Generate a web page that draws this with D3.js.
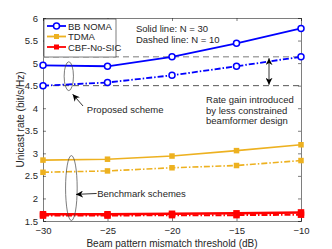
<!DOCTYPE html>
<html>
<head>
<meta charset="utf-8">
<script src="https://cdn.jsdelivr.net/npm/d3@7/dist/d3.min.js"></script>
<style>
  body { margin: 0; background: #fff; }
  text { font-family: "Liberation Sans", Arial, sans-serif; }
</style>
</head>
<body>
<div id="chart"></div>
<script>
// thresholds (dB)
const thresholds = [-30, -25, -20, -15, -10];
// rates (bit/s/Hz), solid = N 30, dashed = N 10
const bbNoma30 = [4.95, 4.93, 5.14, 5.44, 5.77];
const bbNoma10 = [4.50, 4.57, 4.73, 4.93, 5.14];
const tdma30 = [2.85, 2.87, 2.94, 3.06, 3.19];
const tdma10 = [2.58, 2.61, 2.68, 2.73, 2.84];
const cbf30 = [1.65, 1.65, 1.66, 1.67, 1.69];
const cbf10 = [1.62, 1.62, 1.63, 1.63, 1.64];
const yTicks = [1.5, 2, 2.5, 3, 3.5, 4, 4.5, 5, 5.5, 6];
const refLevels = [5.14, 4.5];

const width = 332, height = 249;
const margin = { top: 18, right: 31, bottom: 28, left: 43 };

const svg = d3.select("#chart").append("svg")
  .attr("width", width)
  .attr("height", height);

const x = d3.scaleLinear().domain([-30, -10]).range([margin.left, width - margin.right]);
const y = d3.scaleLinear().domain([1.5, 6]).range([height - margin.bottom, margin.top]);

const txt = "#262626";
const dashDot = "6,2,1.5,2";

// arrow marker
svg.append("defs").append("marker")
  .attr("id", "ah")
  .attr("viewBox", "0 0 10 10")
  .attr("refX", 10).attr("refY", 5)
  .attr("markerWidth", 7).attr("markerHeight", 7)
  .attr("markerUnits", "userSpaceOnUse")
  .attr("orient", "auto-start-reverse")
  .append("path")
  .attr("d", "M0,0 L10,5 L0,10 L3,5 Z")
  .attr("fill", "#000");

// axes with inward ticks
const xAxis = d3.axisBottom(x).tickValues(thresholds).tickSize(-3).tickPadding(6);
const yAxis = d3.axisLeft(y).tickValues(yTicks).tickSize(-3).tickPadding(5).tickFormat(d3.format("~g"));

const gx = svg.append("g").attr("transform", `translate(0,${y(1.5)})`).call(xAxis);
const gy = svg.append("g").attr("transform", `translate(${x(-30)},0)`).call(yAxis);
svg.append("g").attr("transform", `translate(0,${y(6)})`)
  .call(d3.axisTop(x).tickValues(thresholds).tickSize(-3).tickFormat(""));
svg.append("g").attr("transform", `translate(${x(-10)},0)`)
  .call(d3.axisRight(y).tickValues(yTicks).tickSize(-3).tickFormat(""));

svg.selectAll(".domain").attr("stroke", "#262626").attr("stroke-width", 0.6);
svg.selectAll(".tick line").attr("stroke", "#262626").attr("stroke-width", 0.6);
svg.selectAll(".tick text").attr("fill", txt).style("font-size", "9.5px");

// axis titles
svg.append("text")
  .attr("x", (x(-30) + x(-10)) / 2).attr("y", 247)
  .attr("text-anchor", "middle").attr("fill", txt)
  .style("font-size", "10px")
  .text("Beam pattern mismatch threshold (dB)");
svg.append("text")
  .attr("transform", `translate(20,${(y(1.5) + y(6)) / 2}) rotate(-90)`)
  .attr("text-anchor", "middle").attr("dominant-baseline", "central").attr("fill", txt)
  .style("font-size", "10px")
  .text("Unicast rate (bit/s/Hz)");

// reference dashed lines
svg.selectAll(".ref").data(refLevels).enter().append("line")
  .attr("x1", x(-30)).attr("x2", x(-10))
  .attr("y1", d => y(d)).attr("y2", d => y(d))
  .attr("stroke", (d, i) => i === 0 ? "#a6a6a6" : "#555")
  .attr("stroke-width", (d, i) => i === 0 ? 1.6 : 1)
  .attr("stroke-dasharray", "6,4");

const line = d3.line().x((d, i) => x(thresholds[i])).y(d => y(d));

const series = [
  { vals: cbf10, color: "#ff0000", dash: dashDot, w: 2, marker: "sq", size: 6.5 },
  { vals: cbf30, color: "#ff0000", dash: null, w: 2.5, marker: "sq", size: 6.5 },
  { vals: tdma10, color: "#edb120", dash: dashDot, w: 1.6, marker: "sq", size: 5.5 },
  { vals: tdma30, color: "#edb120", dash: null, w: 1.6, marker: "sq", size: 5.5 },
  { vals: bbNoma10, color: "#0000ff", dash: dashDot, w: 1.8, marker: "circ", size: 3 },
  { vals: bbNoma30, color: "#0000ff", dash: null, w: 1.8, marker: "circ", size: 3 }
];

series.forEach(s => {
  svg.append("path")
    .datum(s.vals)
    .attr("d", line)
    .attr("fill", "none")
    .attr("stroke", s.color)
    .attr("stroke-width", s.w)
    .attr("stroke-dasharray", s.dash);
  if (s.marker === "sq") {
    svg.selectAll(null).data(s.vals).enter().append("rect")
      .attr("x", (d, i) => x(thresholds[i]) - s.size / 2)
      .attr("y", d => y(d) - s.size / 2)
      .attr("width", s.size).attr("height", s.size)
      .attr("fill", s.color);
  } else {
    svg.selectAll(null).data(s.vals).enter().append("circle")
      .attr("cx", (d, i) => x(thresholds[i]))
      .attr("cy", d => y(d))
      .attr("r", s.size)
      .attr("fill", "#fff")
      .attr("stroke", s.color)
      .attr("stroke-width", 1.5);
  }
});

// ellipses
const ellipses = [
  { cx: -28.0, cy: 4.71, rx: 0.36, ry: 0.32 },
  { cx: -27.8, cy: 2.23, rx: 0.45, ry: 0.72 }
];
svg.selectAll(".ell").data(ellipses).enter().append("ellipse")
  .attr("cx", d => x(d.cx)).attr("cy", d => y(d.cy))
  .attr("rx", d => x(d.cx + d.rx) - x(d.cx))
  .attr("ry", d => y(d.cy) - y(d.cy + d.ry))
  .attr("fill", "none").attr("stroke", "#444").attr("stroke-width", 0.7);

// arrows
const arrows = [
  { x1: -26.9, y1: 4.05, x2: -27.7, y2: 4.31, both: false },
  { x1: -25.84, y1: 2.11, x2: -27.44, y2: 2.09, both: false },
  { x1: -12.48, y1: 4.52, x2: -12.48, y2: 5.11, both: true }
];
svg.selectAll(".arr").data(arrows).enter().append("line")
  .attr("x1", d => x(d.x1)).attr("y1", d => y(d.y1))
  .attr("x2", d => x(d.x2)).attr("y2", d => y(d.y2))
  .attr("stroke", "#000").attr("stroke-width", 0.8)
  .attr("marker-end", "url(#ah)")
  .attr("marker-start", d => d.both ? "url(#ah)" : null);

// annotation texts
const notes = [
  { x: -26.6, y: 3.97, t: "Proposed scheme" },
  { x: -25.8, y: 2.11, t: "Benchmark schemes" },
  { x: -17.36, y: 4.20, t: "Rate gain introduced" },
  { x: -17.36, y: 3.96, t: "by less constrained" },
  { x: -17.36, y: 3.72, t: "beamformer design" },
  { x: -22.8, y: 5.77, t: "Solid line: N = 30" },
  { x: -22.8, y: 5.53, t: "Dashed line: N = 10" }
];
svg.selectAll(".note").data(notes).enter().append("text")
  .attr("x", d => x(d.x)).attr("y", d => y(d.y))
  .attr("dominant-baseline", "central")
  .attr("fill", txt)
  .style("font-size", "9.5px")
  .text(d => d.t);

// legend
const legendItems = [
  { name: "BB NOMA", color: "#0000ff", marker: "circ" },
  { name: "TDMA", color: "#edb120", marker: "sq" },
  { name: "CBF-No-SIC", color: "#ff0000", marker: "sq" }
];
const lg = svg.append("g").attr("transform", "translate(44,19)");
lg.append("rect").attr("width", 72).attr("height", 38)
  .attr("fill", "#fff").attr("stroke", "#262626").attr("stroke-width", 0.6);
legendItems.forEach((d, i) => {
  const row = lg.append("g").attr("transform", `translate(0,${7 + i * 10.5})`);
  row.append("line").attr("x1", 3).attr("x2", 22).attr("stroke", d.color).attr("stroke-width", 1.8);
  if (d.marker === "circ") {
    row.append("circle").attr("cx", 12.5).attr("r", 3)
      .attr("fill", "#fff").attr("stroke", d.color).attr("stroke-width", 1.5);
  } else {
    row.append("rect").attr("x", 10).attr("y", -2.5).attr("width", 5).attr("height", 5).attr("fill", d.color);
  }
  row.append("text").attr("x", 24).attr("dominant-baseline", "central")
    .attr("fill", txt).style("font-size", "9.5px").text(d.name);
});
</script>
</body>
</html>
